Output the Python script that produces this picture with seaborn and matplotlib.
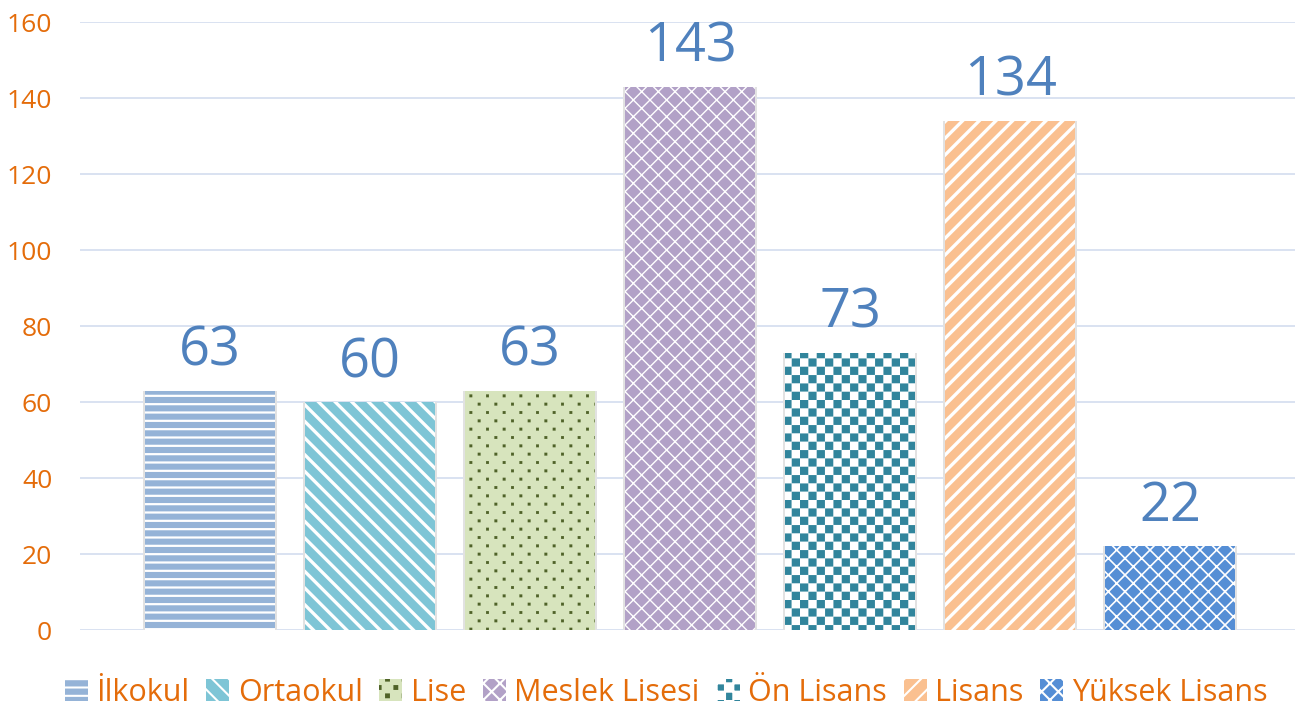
import warnings
warnings.filterwarnings('ignore')
import numpy as np
import pandas as pd
import matplotlib
matplotlib.use('Agg')
import matplotlib.pyplot as plt
import matplotlib.hatch as mhatch
from matplotlib.path import Path
from matplotlib.patches import Patch
import seaborn as sns

categories = ['İlkokul', 'Ortaokul', 'Lise', 'Meslek Lisesi', 'Ön Lisans', 'Lisans', 'Yüksek Lisans']
values = [63, 60, 63, 143, 73, 134, 22]
yticks = [0, 20, 40, 60, 80, 100, 120, 140, 160]

colors = ['#95B3D7', '#7EC5D6', '#D7E4BD', '#B2A1C7', '#31859C', '#FAC090', '#558ED5']
hatch_colors = ['white', 'white', '#4F6228', 'white', 'white', 'white', 'white']
hatches = ['--', '\\\\', 'd', 'xx', 'cc', '//', 'xx']
hatch_lws = [1.6, 2.4, 0.1, 1.0, 0.1, 2.4, 1.2]

TICK_COLOR = '#E46C0A'
LABEL_COLOR = '#4F81BD'
GRID_COLOR = '#D9E2F1'


class CheckerHatch(mhatch.HatchPatternBase):
    def __init__(self, hatch, density):
        self.n = int(hatch.count('c') * density)
        if self.n % 2:
            self.n += 1
        self.cells = [(i, j) for i in range(self.n) for j in range(self.n)
                      if (i + j) % 2 == 0] if self.n else []
        self.num_vertices = len(self.cells) * 5

    def set_vertices_and_codes(self, vertices, codes):
        s = 1.0 / self.n
        for k, (i, j) in enumerate(self.cells):
            x0, y0 = i * s, j * s
            vertices[5 * k:5 * k + 5] = [(x0, y0), (x0 + s, y0), (x0 + s, y0 + s),
                                         (x0, y0 + s), (x0, y0)]
            codes[5 * k] = Path.MOVETO
            codes[5 * k + 1:5 * k + 4] = Path.LINETO
            codes[5 * k + 4] = Path.CLOSEPOLY


class DotHatch(mhatch.HatchPatternBase):
    def __init__(self, hatch, density):
        self.ncol = int(hatch.count('d') * density)
        self.nrow = self.ncol * 2
        self.pts = []
        for r in range(self.nrow):
            y = (r + 0.5) / self.nrow
            for c in range(self.ncol):
                x = (c + 0.25 + 0.5 * (r % 2)) / self.ncol
                self.pts.append((x, y))
        self.num_vertices = len(self.pts) * 5

    def set_vertices_and_codes(self, vertices, codes):
        h = 0.014
        for k, (x, y) in enumerate(self.pts):
            vertices[5 * k:5 * k + 5] = [(x - h, y - h), (x + h, y - h), (x + h, y + h),
                                         (x - h, y + h), (x - h, y - h)]
            codes[5 * k] = Path.MOVETO
            codes[5 * k + 1:5 * k + 4] = Path.LINETO
            codes[5 * k + 4] = Path.CLOSEPOLY


mhatch._hatch_types.append(CheckerHatch)
mhatch._hatch_types.append(DotHatch)

sns.set_theme(style='white')
plt.rcParams['font.family'] = ['Open Sans', 'DejaVu Sans']
plt.rcParams['hatch.linewidth'] = 1.5

fig = plt.figure(figsize=(13.01, 7.09), dpi=100)
ax = fig.add_axes([80 / 1301, 79 / 709, 1215 / 1301, 608 / 709])

df = pd.DataFrame({'level': categories, 'count': values})

# soft shadow layer
sns.barplot(data=df, x='level', y='count', color='#E2E2E2', width=0.835,
            saturation=1, ax=ax, legend=False)
n_shadow = len(ax.patches)
for p in ax.patches:
    p.set_linewidth(0)
    p.set_zorder(1.5)

sns.barplot(data=df, x='level', y='count', hue='level', palette=colors,
            width=0.8125, saturation=1, ax=ax, legend=False)
main_patches = ax.patches[n_shadow:]

for p in main_patches:
    i = int(round(p.get_x() + p.get_width() / 2))
    p.set_edgecolor(hatch_colors[i])
    p.set_linewidth(0)
    p.set_hatch(hatches[i])
    if hasattr(p, 'set_hatch_linewidth'):
        p.set_hatch_linewidth(hatch_lws[i])
    p.set_zorder(2)

for i, v in enumerate(values):
    ax.annotate(str(v), xy=(i, v), xytext=(0, 18), textcoords='offset points',
                ha='center', va='baseline', fontsize=39, color=LABEL_COLOR)

ax.set_xlim(-0.8125, 6.78)
ax.set_ylim(0, 160)
ax.set_yticks(yticks)
ax.set_yticklabels([str(t) for t in yticks])
ax.set_xticks([])
ax.set_xlabel('')
ax.set_ylabel('')
ax.tick_params(axis='y', length=0, pad=20, labelsize=19, labelcolor=TICK_COLOR)
ax.yaxis.grid(True, color=GRID_COLOR, linewidth=1.4, zorder=0)
ax.set_axisbelow(True)
for s in ax.spines.values():
    s.set_visible(False)

handles = []
for c, hc, h, lw in zip(colors, hatch_colors, hatches, hatch_lws):
    hp = Patch(facecolor=c, edgecolor=hc, hatch=h, linewidth=0)
    if hasattr(hp, 'set_hatch_linewidth'):
        hp.set_hatch_linewidth(lw)
    handles.append(hp)

fig.legend(handles, categories, loc='center', bbox_to_anchor=(0.512, 0.023),
           ncol=7, frameon=False, handlelength=0.75, handleheight=0.75,
           handletextpad=0.28, columnspacing=0.55,
           prop={'size': 22, 'family': ['Open Sans', 'DejaVu Sans']},
           labelcolor=TICK_COLOR, borderaxespad=0)

fig.savefig('out.png', dpi=100)
